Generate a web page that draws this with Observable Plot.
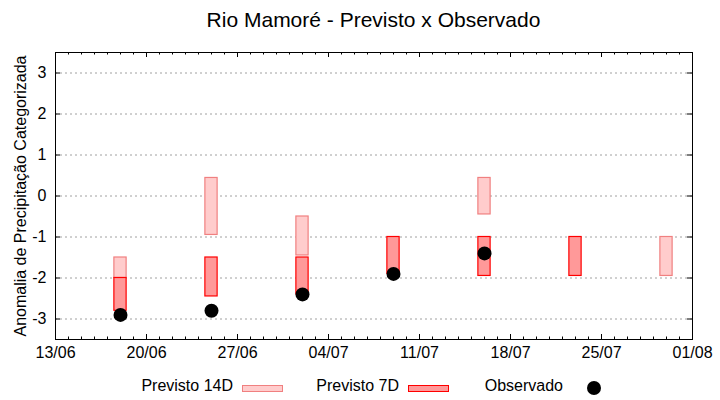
<!DOCTYPE html>
<html>
<head>
<meta charset="utf-8">
<script src="https://cdn.jsdelivr.net/npm/d3@7"></script>
<script src="https://cdn.jsdelivr.net/npm/@observablehq/plot@0.6"></script>
<style>
  body { margin: 0; background: #fff; }
  #wrap { position: relative; width: 720px; height: 400px; font-family: "Liberation Sans", Arial, sans-serif; color: #000; }
  #title { position: absolute; left: 55px; width: 637px; top: 8px; text-align: center; font-size: 21px; line-height: 24px; }
  .lg { position: absolute; font-size: 16px; line-height: 18px; top: 377px; white-space: nowrap; text-align: right; }
  .sw { position: absolute; top: 385px; width: 39px; height: 5px; box-sizing: content-box; }
  .dotlg { position: absolute; width: 14px; height: 14px; border-radius: 50%; background: #000; left: 587px; top: 381px; }
</style>
</head>
<body>
<div id="wrap">
  <div id="title">Rio Mamoré - Previsto x Observado</div>
  <div id="chart"></div>
  <div class="lg" style="right:487px">Previsto 14D</div>
  <div class="sw" style="left:242px; background:#ffcccc; border:1px solid #f08080"></div>
  <div class="lg" style="right:321px">Previsto 7D</div>
  <div class="sw" style="left:408px; background:#ff9999; border:1px solid #ff0000"></div>
  <div class="lg" style="right:157px">Observado</div>
  <div class="dotlg"></div>
</div>
<script>
// ---- data ----
const dates   = ["2023-06-18","2023-06-25","2023-07-02","2023-07-09","2023-07-16","2023-07-23","2023-07-30"];
const p14Low  = [-2.0, -0.95, -1.45, null, -0.45, null, -1.95];
const p14High = [-1.5,  0.44, -0.5,  null,  0.44, null, -1.0];
const p7Low   = [-2.8, -2.45, -2.4, -1.9, -1.95, -1.95, null];
const p7High  = [-2.0, -1.5,  -1.5, -1.0, -1.0,  -1.0,  null];
const observed = [-2.9, -2.8, -2.4, -1.9, -1.4, null, null];
const xTickLabels = ["2023-06-13","2023-06-20","2023-06-27","2023-07-04","2023-07-11","2023-07-18","2023-07-25","2023-08-01"];
const yTicks = [-3, -2, -1, 0, 1, 2, 3];
const xDomain = ["2023-06-13", "2023-08-01"];
const yDomain = [-3.5, 3.5];

// ---- derived tables ----
const parse = d3.utcParse("%Y-%m-%d");
const half = 11.3 * 3600 * 1000;
const rows14 = dates.map((d, i) => ({date: parse(d), lo: p14Low[i], hi: p14High[i]})).filter(r => r.lo != null);
const rows7  = dates.map((d, i) => ({date: parse(d), lo: p7Low[i], hi: p7High[i]})).filter(r => r.lo != null);
const rowsObs = dates.map((d, i) => ({date: parse(d), v: observed[i]})).filter(r => r.v != null);
const majorTicks = xTickLabels.map(parse);
const minorTicks = d3.utcDay.range(parse(xDomain[0]), d3.utcDay.offset(parse(xDomain[1]), 1));

const W = 720, H = 400, mt = 52, mb = 61, ml = 55, mr = 28;
const plotH = H - mt - mb, plotW = W - ml - mr;

const chart = Plot.plot({
  width: W, height: H,
  marginTop: mt, marginBottom: mb, marginLeft: ml, marginRight: mr,
  style: {fontFamily: "Liberation Sans, Arial, sans-serif", fontSize: "16px", color: "#000", background: "#fff"},
  x: {type: "utc", domain: xDomain.map(parse)},
  y: {domain: yDomain},
  marks: [
    Plot.ruleY(yTicks, {stroke: "#a0a0a0", strokeWidth: 1, strokeDasharray: "2,3"}),
    Plot.rect(rows14, {x1: d => new Date(+d.date - half), x2: d => new Date(+d.date + half), y1: "lo", y2: "hi", fill: "#ffcccc", stroke: "#f08080", strokeWidth: 1.2}),
    Plot.rect(rows7, {x1: d => new Date(+d.date - half), x2: d => new Date(+d.date + half), y1: "lo", y2: "hi", fill: "#ff9999", stroke: "#ff0000", strokeWidth: 1.2}),
    Plot.dot(rowsObs, {x: "date", y: "v", r: 7, fill: "#000"}),
    // inward ticks
    Plot.tickX(minorTicks, {x: d => d, insetTop: plotH - 2.5, stroke: "#000"}),
    Plot.tickX(minorTicks, {x: d => d, insetBottom: plotH - 2.5, stroke: "#000"}),
    Plot.tickX(majorTicks, {x: d => d, insetTop: plotH - 5, stroke: "#000"}),
    Plot.tickX(majorTicks, {x: d => d, insetBottom: plotH - 5, stroke: "#000"}),
    Plot.tickY(yTicks, {y: d => d, insetRight: plotW - 5, stroke: "#000"}),
    Plot.tickY(yTicks, {y: d => d, insetLeft: plotW - 5, stroke: "#000"}),
    Plot.frame({stroke: "#000", strokeWidth: 1}),
    Plot.axisX({ticks: majorTicks, tickFormat: d3.utcFormat("%d/%m"), tickSize: 0, tickPadding: 7, label: null, fill: "#000"}),
    Plot.axisY({ticks: yTicks, tickFormat: d => d < 0 ? "-" + Math.abs(d) : String(d), tickSize: 0, tickPadding: 9,
      label: "Anomalia de Precipitação Categorizada", labelAnchor: "center", labelArrow: "none", labelOffset: 41, fill: "#000"})
  ]
});
document.getElementById("chart").appendChild(chart);
</script>
</body>
</html>
